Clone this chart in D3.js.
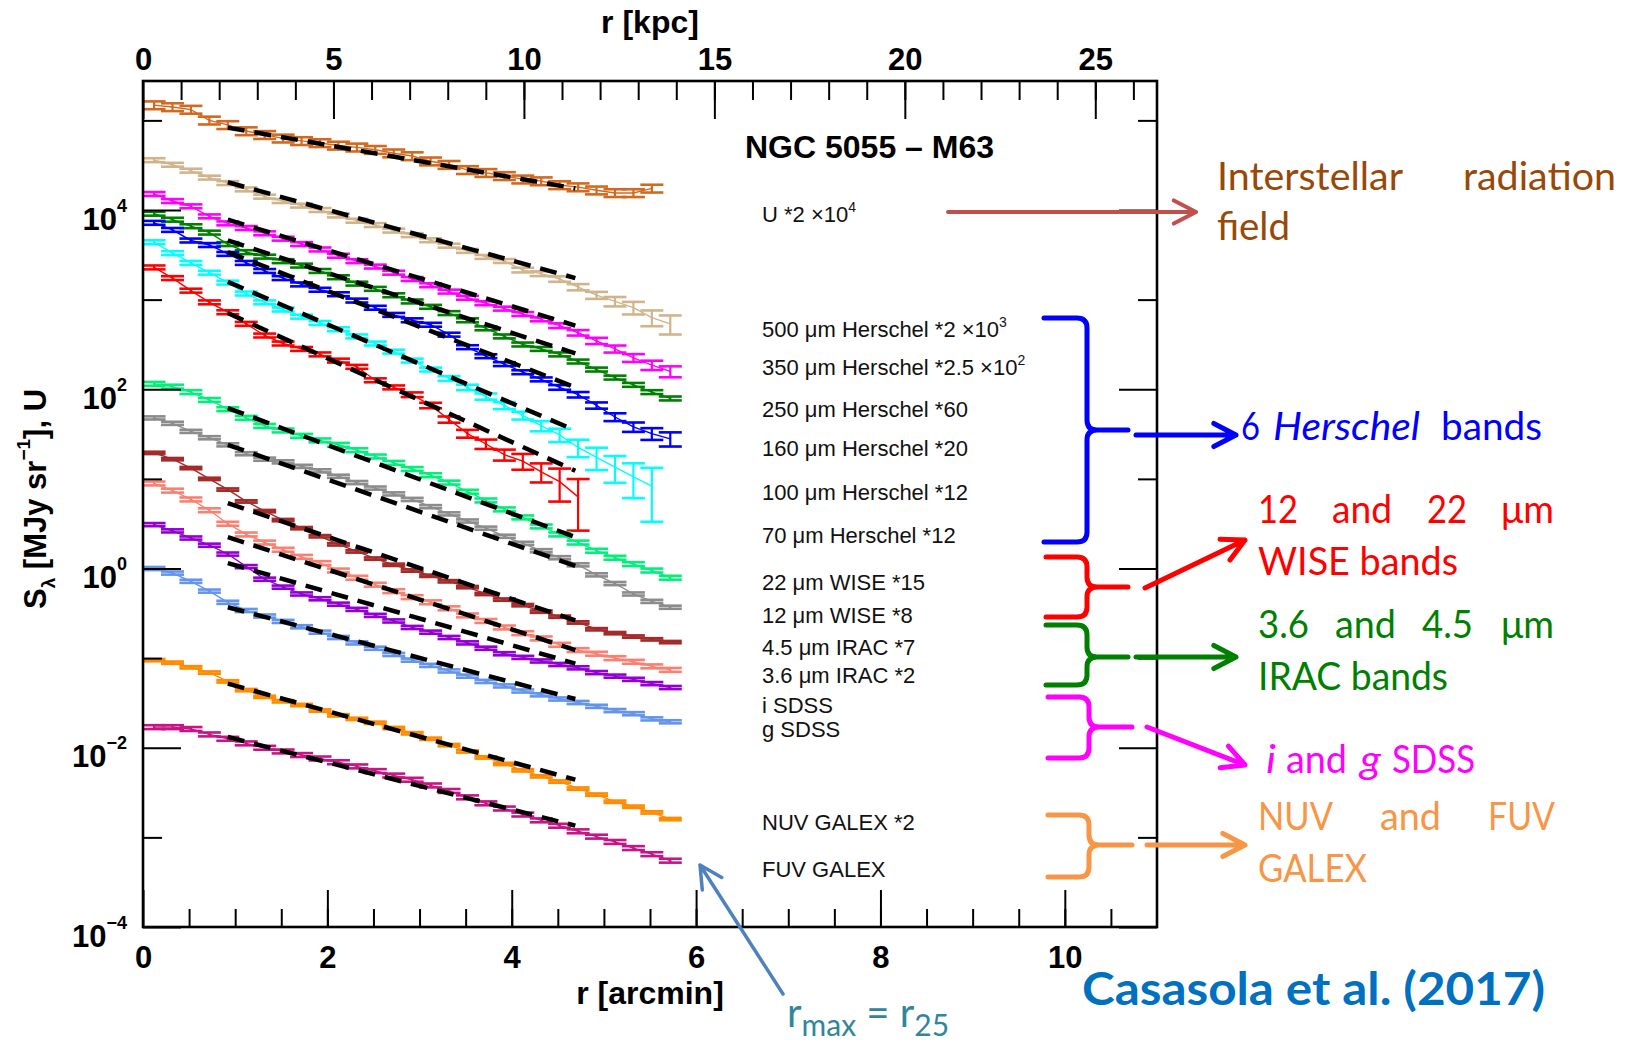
<!DOCTYPE html>
<html>
<head>
<meta charset="utf-8">
<script src="https://cdn.jsdelivr.net/npm/d3@7"></script>
<style>
  body { margin: 0; background: #fff; }
  svg { display: block; }
</style>
</head>
<body>
<div id="chart"></div>
<script>
// radial bins, arcmin
const rBins = [0.12,0.32,0.52,0.72,0.92,1.12,1.32,1.52,1.72,1.92,2.12,2.32,2.52,2.72,2.92,3.12,3.32,3.52,3.72,3.92,4.12,4.32,4.52,4.72,4.92,5.12,5.32,5.52,5.72];

// profiles (already scaled as in the labels)
const isrfU = [1.48e5,1.41e5,1.32e5,1.00e5,8.9e4,7.6e4,6.9e4,6.3e4,5.9e4,5.6e4,5.25e4,5.0e4,4.7e4,4.3e4,4.0e4,3.5e4,3.2e4,2.8e4,2.6e4,2.4e4,2.2e4,2.1e4,1.9e4,1.8e4,1.66e4,1.55e4,1.55e4,1.74e4];
const h500 = [3.6e4,3.2e4,2.75e4,2.3e4,2.0e4,1.7e4,1.41e4,1.26e4,1.12e4,1.0e4,8.7e3,7.6e3,6.8e3,5.9e3,5.25e3,4.6e3,4.0e3,3.5e3,3.0e3,2.7e3,2.14e3,1.95e3,1.70e3,1.38e3,1.12e3,955,813,631,537];
const h350 = [1.51e4,1.26e4,1.10e4,8.5e3,7.1e3,6.3e3,5.5e3,4.79e3,4.17e3,3.63e3,3.09e3,2.69e3,2.34e3,2.0e3,1.70e3,1.45e3,1.23e3,1.05e3,912,794,692,603,513,427,347,282,224,186,158];
const h250 = [9.1e3,7.8e3,6.6e3,5.6e3,4.17e3,3.39e3,3.02e3,2.69e3,2.40e3,2.09e3,1.78e3,1.51e3,1.32e3,1.12e3,955,832,708,589,479,389,316,282,245,204,166,135,112,93,79];
const h160 = [7.2e3,6.0e3,4.57e3,4.07e3,3.24e3,2.57e3,2.09e3,1.74e3,1.48e3,1.29e3,1.15e3,977,813,676,589,525,407,295,234,191,155,129,105,87,66,49,38,32,28];
const h100 = [4.37e3,3.31e3,2.57e3,2.0e3,1.55e3,1.17e3,933,776,646,550,468,389,324,263,209,166,132,105,83,66,51,39,31,22.4,17.4,13.5,10.5,8.3];
const h70 = [2.29e3,1.74e3,1.26e3,933,724,537,398,324,282,245,209,178,126,105,87,66,46,32,24.5,18.6,15.8,12.0,9.3,6.3];
const w22 = [115,107,93,76,60,48,39,34.7,30.2,26.9,24.0,20.9,17.8,15.1,12.9,11.0,9.1,7.2,5.75,4.57,3.72,2.95,2.40,1.95,1.58,1.32,1.12,0.95,0.79];
const w12 = [47.9,41.7,33.9,28.8,24.0,19.1,16.6,15.5,13.8,12.3,10.7,9.1,7.9,6.8,5.9,4.9,4.07,3.39,2.82,2.29,1.91,1.58,1.32,1.10,0.85,0.68,0.52,0.43,0.37];
const irac45 = [19.5,16.6,13.2,10.0,7.6,5.6,4.37,3.47,2.82,2.29,1.86,1.55,1.29,1.10,0.95,0.83,0.72,0.62,0.52,0.45,0.39,0.33,0.29,0.25,0.21,0.19,0.174,0.162,0.151];
const irac36 = [8.9,7.4,5.9,4.47,3.16,2.40,1.95,1.62,1.35,1.15,0.95,0.79,0.66,0.56,0.48,0.42,0.36,0.30,0.26,0.22,0.19,0.166,0.141,0.123,0.112,0.100,0.091,0.081,0.074];
const sdssI = [3.09,2.63,2.19,1.82,1.45,1.05,0.76,0.62,0.52,0.46,0.40,0.35,0.30,0.26,0.22,0.195,0.170,0.148,0.129,0.112,0.102,0.093,0.085,0.078,0.069,0.063,0.058,0.052,0.047];
const sdssG = [1.00,0.89,0.72,0.56,0.42,0.34,0.295,0.257,0.224,0.195,0.170,0.148,0.129,0.110,0.095,0.083,0.072,0.063,0.055,0.049,0.043,0.039,0.035,0.032,0.029,0.026,0.024,0.021,0.0195];
const nuv = [0.095,0.089,0.079,0.069,0.055,0.044,0.037,0.033,0.030,0.026,0.023,0.021,0.019,0.0166,0.0145,0.0126,0.0107,0.0091,0.0078,0.0066,0.0056,0.0048,0.0042,0.0035,0.0030,0.0025,0.0022,0.0019,0.0016];
const fuv = [0.0170,0.0170,0.0162,0.0141,0.0126,0.0112,0.0100,0.0091,0.0083,0.0076,0.0069,0.0062,0.0055,0.0049,0.0044,0.0038,0.0033,0.0028,0.0024,0.0021,0.0018,0.00155,0.00135,0.00117,0.00102,0.00089,0.00076,0.00065,0.00055];

// relative errors (typical per band, plus the bands whose outer errors grow)
const errTypical = [0.1,0.05,0.05,0.05,0.05,0.05,0.05,0.05,0.04,0.03,0.05,0.04,0.04,0.03,0.05];
const errH500 = [.05,.05,.05,.05,.05,.05,.05,.05,.05,.05,.05,.05,.05,.05,.05,.05,.05,.05,.05,.05,.06,.06,.07,.08,.09,.12,.16,.2,.24];
const errH350 = [.05,.05,.05,.05,.05,.05,.05,.05,.05,.05,.05,.05,.05,.05,.05,.05,.05,.05,.05,.05,.05,.05,.06,.07,.08,.09,.1,.12,.14];
const errH160 = [.05,.05,.05,.05,.05,.05,.05,.05,.05,.05,.05,.05,.05,.05,.05,.05,.05,.05,.05,.05,.05,.05,.06,.07,.08,.1,.12,.15,.18];
const errH100 = [.05,.05,.05,.05,.05,.05,.05,.05,.05,.05,.05,.05,.05,.05,.05,.05,.06,.07,.08,.09,.1,.13,.17,.22,.28,.33,.42,.6];
const errH70 = [.05,.05,.05,.05,.05,.05,.05,.05,.05,.05,.05,.05,.05,.05,.06,.07,.08,.1,.12,.14,.2,.24,.4,.58];

// exponential fits, drawn between 0.2 and 0.8 r25
const fitR = [0.92, 4.69];
const fitStart = [8.3e4,2.04e4,7.8e3,4.57e3,3.39e3,1.58e3,708,61.7,24.0,5.37,2.24,1.15,0.37,0.052,0.0132];
const fitEnd = [1.74e4,1.74e3,513,251,105,34.7,12.3,2.24,1.07,0.263,0.123,0.087,0.035,0.0044,0.00135];

const bandLabels = ["U *2 ×10^4","500 μm Herschel *2 ×10^3","350 μm Herschel *2.5 ×10^2","250 μm Herschel *60","160 μm Herschel *20","100 μm Herschel *12","70 μm Herschel *12","22 μm WISE *15","12 μm WISE *8","4.5 μm IRAC *7","3.6 μm IRAC *2","i SDSS","g SDSS","NUV GALEX *2","FUV GALEX"];
const bandColors = ["#d2691e","#d2b48c","#ff00ff","#008000","#0000ff","#00ffff","#ff0000","#00f07a","#8c8c8c","#a52a2a","#fa8072","#9400d3","#6495ed","#ff8c00","#c71585"];
const labelY = [222,337,375,417,456,500,543,590,623,655,683,713,737,830,877];

const kpcTicks = [0,5,10,15,20,25];
const arcminTicks = [0,2,4,6,8,10];
const kpcPerArcmin = 2.42;

const profiles = [isrfU,h500,h350,h250,h160,h100,h70,w22,w12,irac45,irac36,sdssI,sdssG,nuv,fuv];
const errOverride = {1: errH500, 2: errH350, 4: errH160, 5: errH100, 6: errH70};

const bands = profiles.map((vals, i) => ({
  label: bandLabels[i],
  color: bandColors[i],
  pts: vals.map((v, k) => ({r: rBins[k], v: v, e: errOverride[i] ? errOverride[i][k] : errTypical[i]})),
  fit: [{r: fitR[0], v: fitStart[i]}, {r: fitR[1], v: fitEnd[i]}]
}));

const W = 1630, H = 1050;
const m = {left: 143, right: 1157, top: 81, bottom: 927};
const axisFont = "'Liberation Sans', Arial, Helvetica, sans-serif";
const noteFont = "Lato, 'Open Sans', sans-serif";

const svg = d3.select("#chart").append("svg").attr("width", W).attr("height", H);
svg.append("rect").attr("width", W).attr("height", H).attr("fill", "#fff");

const x = d3.scaleLinear().domain([0, 11]).range([m.left, m.right]);
const xk = d3.scaleLinear().domain([0, 11 * kpcPerArcmin]).range([m.left, m.right]);
const y = d3.scaleLog().domain([1e-4, 2.75e5]).range([m.bottom, m.top]);

// rich text helper: parts = [[text, "sup"|"sub"|""], ...]
function rich(t, parts, small, up, dy0) {
  let cur = -(dy0 || 0);
  parts.forEach(([s, k]) => {
    const off = k === "sup" ? -up : k === "sub" ? up * 0.55 : 0;
    const ts = t.append("tspan").attr("dy", off - cur).text(s);
    if (k) ts.attr("font-size", small);
    cur = off;
  });
}

// ---- profiles
const plot = svg.append("g");
const line = d3.line().x(d => x(d.r)).y(d => y(d.v));
const capHalf = 11.5;

bands.forEach(b => {
  const g = plot.append("g").attr("stroke", b.color).attr("fill", "none");
  g.append("path").attr("d", line(b.pts)).attr("stroke-width", 1.4);
  const eb = g.selectAll(".eb").data(b.pts).enter().append("g");
  eb.append("line")
    .attr("x1", d => x(d.r)).attr("x2", d => x(d.r))
    .attr("y1", d => y(d.v * (1 + d.e))).attr("y2", d => y(d.v * (1 - d.e)))
    .attr("stroke-width", 2.2);
  eb.append("line")
    .attr("x1", d => x(d.r) - capHalf).attr("x2", d => x(d.r) + capHalf)
    .attr("y1", d => y(d.v * (1 + d.e))).attr("y2", d => y(d.v * (1 + d.e)))
    .attr("stroke-width", 2.6);
  eb.append("line")
    .attr("x1", d => x(d.r) - capHalf).attr("x2", d => x(d.r) + capHalf)
    .attr("y1", d => y(d.v * (1 - d.e))).attr("y2", d => y(d.v * (1 - d.e)))
    .attr("stroke-width", 2.6);
});

// fits
plot.selectAll(".fit").data(bands).enter().append("path")
  .attr("d", b => line(b.fit))
  .attr("stroke", "#000").attr("stroke-width", 4.5)
  .attr("stroke-dasharray", "17,10").attr("fill", "none");

// ---- axes
function styleAxis(g) {
  g.select(".domain").remove();
  g.selectAll(".tick line").attr("stroke", "#000").attr("stroke-width", 2);
  g.attr("font-family", axisFont).attr("font-size", 31).attr("font-weight", "bold");
  g.selectAll(".tick text").attr("fill", "#000");
}

svg.append("g").attr("transform", `translate(0,${m.bottom})`)
  .call(d3.axisBottom(x).tickValues(d3.range(0.5, 11, 0.5)).tickSize(-18).tickFormat(""))
  .call(styleAxis);
svg.append("g").attr("transform", `translate(0,${m.bottom})`)
  .call(d3.axisBottom(x).tickValues(arcminTicks).tickSize(-37).tickPadding(19).tickFormat(d3.format("d")))
  .call(styleAxis);

svg.append("g").attr("transform", `translate(0,${m.top})`)
  .call(d3.axisTop(xk).tickValues(d3.range(1, 27)).tickSize(-19).tickFormat(""))
  .call(styleAxis);
svg.append("g").attr("transform", `translate(0,${m.top})`)
  .call(d3.axisTop(xk).tickValues(kpcTicks).tickSize(-38).tickPadding(11).tickFormat(d3.format("d")))
  .call(styleAxis);

const yMajor = [1e4, 1e2, 1, 1e-2, 1e-4];
const yMinor = [1e5, 1e3, 10, 0.1, 1e-3];
svg.append("g").attr("transform", `translate(${m.left},0)`)
  .call(d3.axisLeft(y).tickValues(yMinor).tickSize(-19).tickFormat(""))
  .call(styleAxis);
const yAx = svg.append("g").attr("transform", `translate(${m.left},0)`)
  .call(d3.axisLeft(y).tickValues(yMajor).tickSize(-38).tickPadding(16))
  .call(styleAxis);
yAx.selectAll(".tick text").each(function(d) {
  const t = d3.select(this).text(null).attr("dy", null);
  const ex = Math.round(Math.log10(d));
  rich(t, [["10", ""], [ex < 0 ? "−" + (-ex) : String(ex), "sup"]], 18, 18, 19);
});
svg.append("g").attr("transform", `translate(${m.right},0)`)
  .call(d3.axisRight(y).tickValues(yMinor).tickSize(-19).tickFormat(""))
  .call(styleAxis);
svg.append("g").attr("transform", `translate(${m.right},0)`)
  .call(d3.axisRight(y).tickValues(yMajor).tickSize(-38).tickFormat(""))
  .call(styleAxis);

svg.append("rect")
  .attr("x", m.left).attr("y", m.top)
  .attr("width", m.right - m.left).attr("height", m.bottom - m.top)
  .attr("fill", "none").attr("stroke", "#000").attr("stroke-width", 2.6);

// axis titles
const tBold = sel => sel.attr("font-family", axisFont).attr("font-weight", "bold").attr("font-size", 32).attr("fill", "#000");
svg.append("text").attr("x", 650).attr("y", 33).attr("text-anchor", "middle").call(tBold).text("r [kpc]");
svg.append("text").attr("x", 650).attr("y", 1004).attr("text-anchor", "middle").call(tBold).text("r [arcmin]");
const yl = svg.append("text").attr("transform", "translate(46,499) rotate(-90)")
  .attr("text-anchor", "middle").call(tBold).attr("font-size", 31);
rich(yl, [["S", ""], ["λ", "sub"], [" [MJy sr", ""], ["−1", "sup"], ["], U", ""]], 19, 16);

// title and band labels
svg.append("text").attr("x", 745).attr("y", 158)
  .attr("font-family", axisFont).attr("font-weight", "bold").attr("font-size", 32)
  .text("NGC 5055 – M63");

bands.forEach((b, i) => {
  const t = svg.append("text").attr("x", 762).attr("y", labelY[i])
    .attr("font-family", axisFont).attr("font-size", 22).attr("fill", "#111");
  const [main, sup] = b.label.split("^");
  const parts = [[main, ""]];
  if (sup) parts.push([sup, "sup"]);
  rich(t, parts, 14, 10);
});

// ---- annotations
const notes = svg.append("g").attr("font-family", noteFont);

function brace(c, x0, x1, xt, yt, ym, yb) {
  const r = 10;
  notes.append("path")
    .attr("d", `M${x0},${yt} L${x1 - r},${yt} Q${x1},${yt} ${x1},${yt + r} L${x1},${ym - r} Q${x1},${ym} ${x1 + r},${ym} L${xt},${ym} M${x1 + r},${ym} Q${x1},${ym} ${x1},${ym + r} L${x1},${yb - r} Q${x1},${yb} ${x1 - r},${yb} L${x0},${yb}`)
    .attr("fill", "none").attr("stroke", c).attr("stroke-width", 5)
    .attr("stroke-linecap", "round").attr("stroke-linejoin", "round");
}

function arrow(c, x1, y1, x2, y2, w) {
  const a = Math.atan2(y2 - y1, x2 - x1), h = 25, s = 0.48;
  notes.append("path")
    .attr("d", `M${x1},${y1} L${x2},${y2} M${x2 - h * Math.cos(a - s)},${y2 - h * Math.sin(a - s)} L${x2},${y2} L${x2 - h * Math.cos(a + s)},${y2 - h * Math.sin(a + s)}`)
    .attr("fill", "none").attr("stroke", c).attr("stroke-width", w)
    .attr("stroke-linecap", "round").attr("stroke-linejoin", "round");
}

function word(c, s, x0, x1, yb, opt) {
  const t = notes.append("text").attr("x", x0).attr("y", yb)
    .attr("font-size", (opt && opt.size) || 38).attr("fill", c)
    .attr("textLength", x1 - x0).attr("lengthAdjust", "spacingAndGlyphs").text(s);
  if (opt && opt.italic) t.attr("font-style", "italic");
  if (opt && opt.bold) t.attr("font-weight", "bold");
  return t;
}

// interstellar radiation field
arrow("#c0504d", 948, 212, 1196, 212, 4);
word("#984807", "Interstellar", 1217, 1403, 190);
word("#984807", "radiation", 1463, 1616, 190);
word("#984807", "field", 1217, 1290, 240);

// Herschel
brace("#0000ff", 1044, 1087, 1128, 318, 430, 542);
arrow("#0000ff", 1136, 435, 1236, 435, 5);
word("#0000ff", "6", 1241, 1260, 440);
word("#0000ff", "Herschel", 1273, 1420, 440, {italic: true});
word("#0000ff", "bands", 1441, 1542, 440);

// WISE
brace("#ff0000", 1046, 1087, 1128, 557, 587, 617);
arrow("#ff0000", 1145, 588, 1245, 540, 5);
word("#ff0000", "12", 1258, 1298, 523);
word("#ff0000", "and", 1332, 1392, 523);
word("#ff0000", "22", 1427, 1467, 523);
word("#ff0000", "μm", 1501, 1554, 523);
word("#ff0000", "WISE bands", 1258, 1458, 575);

// IRAC
brace("#008000", 1046, 1087, 1128, 625, 657, 685);
arrow("#008000", 1136, 657, 1236, 657, 5);
word("#008000", "3.6", 1258, 1309, 638);
word("#008000", "and", 1335, 1396, 638);
word("#008000", "4.5", 1422, 1473, 638);
word("#008000", "μm", 1501, 1554, 638);
word("#008000", "IRAC bands", 1258, 1448, 690);

// SDSS
brace("#ff00ff", 1048, 1089, 1132, 697, 727, 758);
arrow("#ff00ff", 1147, 727, 1245, 765, 5);
word("#ff00ff", "i", 1266, 1276, 773, {italic: true});
word("#ff00ff", "and", 1286, 1347, 773);
word("#ff00ff", "g", 1360, 1381, 773, {italic: true});
word("#ff00ff", "SDSS", 1392, 1475, 773);

// GALEX
brace("#f79646", 1048, 1089, 1132, 815, 845, 877);
arrow("#f79646", 1147, 845, 1245, 845, 5);
word("#f79646", "NUV", 1258, 1333, 830);
word("#f79646", "and", 1380, 1441, 830);
word("#f79646", "FUV", 1488, 1555, 830);
word("#f79646", "GALEX", 1258, 1367, 882);

// r25 marker
arrow("#4f81bd", 783, 994, 700, 865, 3.5);
const rt = notes.append("text").attr("x", 787).attr("y", 1027)
  .attr("font-size", 40).attr("fill", "#31859c");
rich(rt, [["r", ""], ["max", "sub"], [" = r", ""], ["25", "sub"]], 30, 16);

word("#0070c0", "Casasola et al. (2017)", 1082, 1545, 1005, {bold: true, size: 46});
</script>
</body>
</html>
